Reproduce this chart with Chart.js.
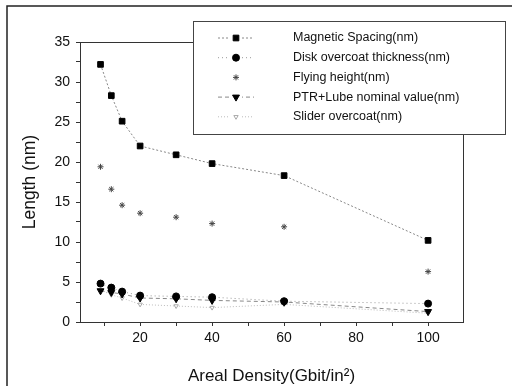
<!DOCTYPE html>
<html>
<head>
<meta charset="utf-8">
<script src="https://cdn.jsdelivr.net/npm/chart.js@4"></script>
<style>
  html, body { margin: 0; padding: 0; background: #fff; }
  canvas { display: block; }
</style>
</head>
<body>
<canvas id="myChart" width="514" height="387"></canvas>
<script>
"use strict";
// areal density (Gbit/in^2)
const density = [9, 12, 15, 20, 30, 40, 60, 100];
const magneticSpacing = [32.2, 28.3, 25.1, 22.0, 20.9, 19.8, 18.3, 10.2];
const diskOvercoat = [4.8, 4.3, 3.8, 3.3, 3.2, 3.1, 2.6, 2.3];
const flyingHeight = [19.4, 16.6, 14.6, 13.6, 13.1, 12.3, 11.9, 6.3];
const ptrLube = [3.9, 3.7, 3.5, 3.0, 2.9, 2.7, 2.5, 1.3];
const sliderOvercoat = [4.0, 3.4, 3.0, 2.2, 2.0, 1.8, 2.2, 1.1];
const seriesNames = ['Magnetic Spacing(nm)', 'Disk overcoat thickness(nm)', 'Flying height(nm)',
    'PTR+Lube nominal value(nm)', 'Slider overcoat(nm)'];
const xTicks = [10, 20, 30, 40, 50, 60, 70, 80, 90, 100];
const xLabels = [20, 40, 60, 80, 100];
const yLabels = [0, 5, 10, 15, 20, 25, 30, 35];

function pts(ys) {
    return density.map((x, i) => ({ x: x, y: ys[i] }));
}

const font = "'Liberation Sans', Arial, sans-serif";

// box round the plot, outer frame and the legend
const framePlugin = {
    id: 'frame',
    afterDraw(chart) {
        const c = chart.ctx;
        const a = chart.chartArea;
        c.save();
        c.strokeStyle = '#333';
        c.lineWidth = 1;
        c.strokeRect(a.left + 0.5, a.top + 0.5, a.right - a.left, a.bottom - a.top);
        // outer frame of the scan
        c.strokeStyle = '#222';
        c.lineWidth = 1.5;
        c.beginPath();
        c.moveTo(7, 386);
        c.lineTo(7, 6);
        c.lineTo(512, 6);
        c.stroke();

        // legend
        const lx = 193, ly = 21, lw = 312, lh = 113;
        c.fillStyle = '#fff';
        c.fillRect(lx, ly, lw, lh);
        c.strokeStyle = '#444';
        c.lineWidth = 1;
        c.strokeRect(lx + 0.5, ly + 0.5, lw, lh);
        c.font = '12.5px ' + font;
        c.textBaseline = 'middle';
        chart.data.datasets.forEach((ds, i) => {
            const y = 38 + i * 19.7;
            c.strokeStyle = ds.borderColor;
            c.setLineDash(ds.borderDash);
            c.beginPath();
            c.moveTo(218, y);
            c.lineTo(254, y);
            c.stroke();
            c.setLineDash([]);
            c.fillStyle = '#fff';
            c.fillRect(230, y - 5, 12, 10);
            c.fillStyle = ds.pointBackgroundColor;
            c.strokeStyle = ds.pointBorderColor;
            Chart.helpers.drawPoint(c, {
                pointStyle: ds.pointStyle,
                radius: ds.pointRadius,
                rotation: ds.rotation || 0,
                borderWidth: 1
            }, 236, y);
            c.fillStyle = '#111';
            c.fillText(ds.label, 293, y);
        });
        c.restore();
    }
};

const ctx = document.getElementById('myChart');
var myChart = new Chart(ctx, {
    type: 'line',
    data: {
        datasets: [{
                label: seriesNames[0],
                data: pts(magneticSpacing),
                borderColor: '#888',
                borderWidth: 1,
                borderDash: [2, 2],
                pointStyle: 'rect',
                pointRadius: 4,
                pointBackgroundColor: '#000',
                pointBorderColor: '#000'
            },
            {
                label: seriesNames[1],
                data: pts(diskOvercoat),
                borderColor: '#999',
                borderWidth: 1,
                borderDash: [1, 3],
                pointStyle: 'circle',
                pointRadius: 3.5,
                pointBackgroundColor: '#000',
                pointBorderColor: '#000'
            },
            {
                label: seriesNames[2],
                data: pts(flyingHeight),
                borderColor: 'rgba(0,0,0,0)',
                borderWidth: 1,
                borderDash: [],
                showLine: false,
                pointStyle: 'star',
                pointRadius: 3,
                pointBackgroundColor: '#444',
                pointBorderColor: '#444'
            },
            {
                label: seriesNames[3],
                data: pts(ptrLube),
                borderColor: '#888',
                borderWidth: 1,
                borderDash: [4, 3],
                pointStyle: 'triangle',
                rotation: 180,
                pointRotation: 180,
                pointRadius: 4,
                pointBackgroundColor: '#000',
                pointBorderColor: '#000'
            },
            {
                label: seriesNames[4],
                data: pts(sliderOvercoat),
                borderColor: '#bbb',
                borderWidth: 1,
                borderDash: [1, 2],
                pointStyle: 'triangle',
                rotation: 180,
                pointRotation: 180,
                pointRadius: 2.5,
                pointBackgroundColor: '#fff',
                pointBorderColor: '#aaa'
            }
        ]
    },
    options: {
        responsive: false,
        animation: false,
        layout: { padding: { top: 42, right: 51, left: 0, bottom: 0 } },
        plugins: {
            legend: { display: false },
            tooltip: { enabled: false }
        },
        scales: {
            x: {
                type: 'linear',
                min: 3.3,
                max: 109.7,
                afterBuildTicks(s) { s.ticks = xTicks.map(v => ({ value: v })); },
                afterFit(s) { s.height = 65; },
                grid: { display: true, drawOnChartArea: false, tickLength: 4, color: '#333' },
                border: { display: false },
                ticks: {
                    color: '#111',
                    font: { family: font, size: 14 },
                    padding: 4,
                    maxRotation: 0,
                    autoSkip: false,
                    callback: v => xLabels.includes(v) ? String(v) : ''
                },
                title: {
                    display: true,
                    text: 'Areal Density(Gbit/in²)',
                    color: '#111',
                    font: { family: font, size: 17 },
                    padding: { top: 4, bottom: 0 }
                }
            },
            y: {
                min: 0,
                max: 35,
                afterFit(s) { s.width = 80; },
                afterBuildTicks(s) {
                    const t = [];
                    for (let v = 0; v <= 35; v += 2.5) t.push({ value: v });
                    s.ticks = t;
                },
                grid: { display: true, drawOnChartArea: false, tickLength: 4, color: '#333' },
                border: { display: false },
                ticks: {
                    color: '#111',
                    font: { family: font, size: 14 },
                    padding: 6,
                    autoSkip: false,
                    callback: v => yLabels.includes(v) ? String(v) : ''
                },
                title: {
                    display: true,
                    text: 'Length (nm)',
                    color: '#111',
                    font: { family: font, size: 17.5 },
                    padding: { top: 20, bottom: 4 }
                }
            }
        }
    },
    plugins: [framePlugin]
});
</script>
</body>
</html>
